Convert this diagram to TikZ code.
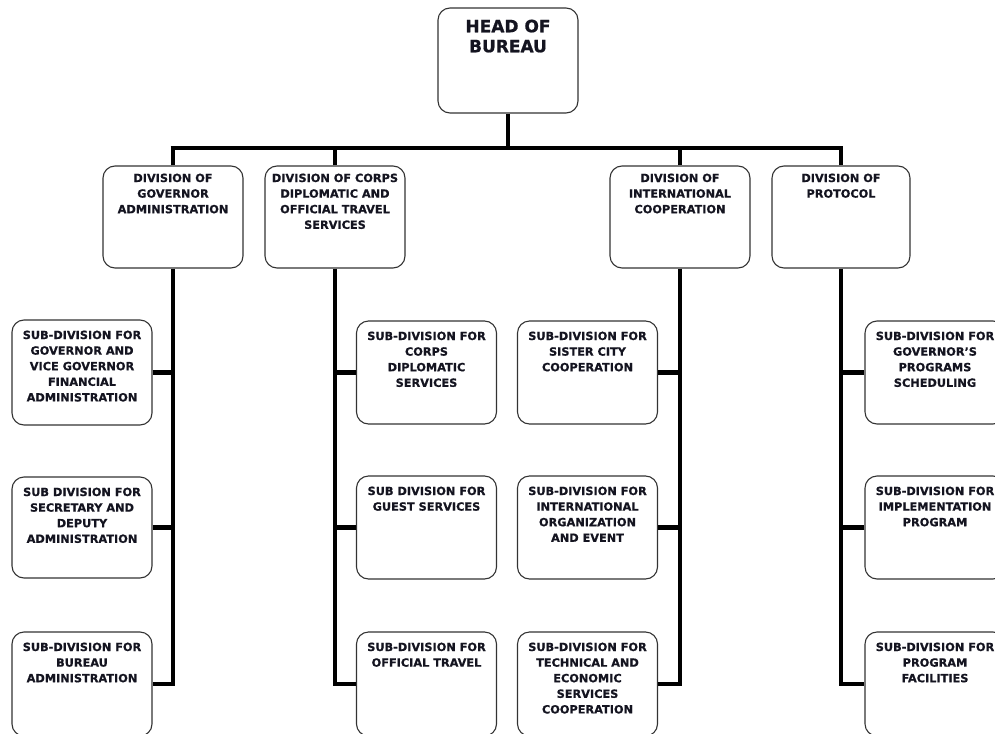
\documentclass[tikz,border=0pt]{standalone}
\usepackage{fontspec}
\setmainfont{DejaVu Sans}[BoldFeatures={FakeBold=0.7}]
\definecolor{boxline}{HTML}{333333}
\definecolor{txt}{HTML}{141420}
\begin{document}
\begin{tikzpicture}[x=1pt,y=-1pt,
  box/.style={draw=boxline, line width=1.1pt, rounded corners=12pt, minimum width=140pt, minimum height=103pt, inner sep=0pt},
  lbl/.style={anchor=north, align=center, inner sep=0pt, text=txt, font=\fontsize{11.3}{15.6}\selectfont\bfseries},
  headlbl/.style={anchor=north, align=center, inner sep=0pt, text=txt, font=\fontsize{17}{20}\selectfont\bfseries},
  conn/.style={line width=4.8pt, draw=black, line join=miter}]
\useasboundingbox (0,0) rectangle (995,733);
\clip (0,0) rectangle (995,733);
\fill[white] (0,0) rectangle (995,733);

% head
\node[box, minimum height=105pt] (h) at (508,60.5) {};
\node[headlbl] (ht) at ([yshift=-12pt]h.north) {HEAD OF\\BUREAU};

% divisions
\node[box, minimum height=102pt] (d1) at (173,217) {};
\node[box, minimum height=102pt] (d2) at (335,217) {};
\node[box, minimum height=102pt] (d3) at (680,217) {};
\node[box, minimum height=102pt, minimum width=138pt] (d4) at (841,217) {};
\node[lbl] (d1t) at ([yshift=-8pt]d1.north) {DIVISION OF\\GOVERNOR\\ADMINISTRATION};
\node[lbl] (d2t) at ([yshift=-8pt]d2.north) {DIVISION OF CORPS\\DIPLOMATIC AND\\OFFICIAL TRAVEL\\SERVICES};
\node[lbl] (d3t) at ([yshift=-8pt]d3.north) {DIVISION OF\\INTERNATIONAL\\COOPERATION};
\node[lbl] (d4t) at ([yshift=-8pt]d4.north) {DIVISION OF\\PROTOCOL};

% sub-divisions column 1
\node[box, minimum height=105pt] (s11) at (82,372.5) {};
\node[box, minimum height=101pt] (s12) at (82,527.5) {};
\node[box, minimum height=104pt] (s13) at (82,684) {};
% column 2
\node[box, minimum height=103pt] (s21) at (426.5,372.5) {};
\node[box, minimum height=103pt] (s22) at (426.5,527.5) {};
\node[box, minimum height=104pt] (s23) at (426.5,684) {};
% column 3
\node[box, minimum height=103pt] (s31) at (587.5,372.5) {};
\node[box, minimum height=103pt] (s32) at (587.5,527.5) {};
\node[box, minimum height=104pt] (s33) at (587.5,684) {};
% column 4
\node[box, minimum height=103pt] (s41) at (935,372.5) {};
\node[box, minimum height=103pt] (s42) at (935,527.5) {};
\node[box, minimum height=104pt] (s43) at (935,684) {};

\node[lbl] (s11t) at ([yshift=-11pt]s11.north) {SUB-DIVISION FOR\\GOVERNOR AND\\VICE GOVERNOR\\FINANCIAL\\ADMINISTRATION};
\node[lbl] (s12t) at ([yshift=-11pt]s12.north) {SUB DIVISION FOR\\SECRETARY AND\\DEPUTY\\ADMINISTRATION};
\node[lbl] (s13t) at ([yshift=-11pt]s13.north) {SUB-DIVISION FOR\\BUREAU\\ADMINISTRATION};
\node[lbl] (s21t) at ([yshift=-11pt]s21.north) {SUB-DIVISION FOR\\CORPS\\DIPLOMATIC\\SERVICES};
\node[lbl] (s22t) at ([yshift=-11pt]s22.north) {SUB DIVISION FOR\\GUEST SERVICES};
\node[lbl] (s23t) at ([yshift=-11pt]s23.north) {SUB-DIVISION FOR\\OFFICIAL TRAVEL};
\node[lbl] (s31t) at ([yshift=-11pt]s31.north) {SUB-DIVISION FOR\\SISTER CITY\\COOPERATION};
\node[lbl] (s32t) at ([yshift=-11pt]s32.north) {SUB-DIVISION FOR\\INTERNATIONAL\\ORGANIZATION\\AND EVENT};
\node[lbl] (s33t) at ([yshift=-11pt]s33.north) {SUB-DIVISION FOR\\TECHNICAL AND\\ECONOMIC\\SERVICES\\COOPERATION};
\node[lbl] (s41t) at ([yshift=-11pt]s41.north) {SUB-DIVISION FOR\\GOVERNOR'S\\PROGRAMS\\SCHEDULING};
\node[lbl] (s42t) at ([yshift=-11pt]s42.north) {SUB-DIVISION FOR\\IMPLEMENTATION\\PROGRAM};
\node[lbl] (s43t) at ([yshift=-11pt]s43.north) {SUB-DIVISION FOR\\PROGRAM\\FACILITIES};

% connectors
\coordinate (barL) at (173,148);
\coordinate (barR) at (841,148);
\draw[conn] ([xshift=-2.4pt]barL) -- ([xshift=2.4pt]barR);
\draw[conn] (h.south) -- (h.south |- barL);
\foreach \d in {d1,d2,d3,d4} {
  \draw[conn] (\d.north) -- (\d.north |- barL);
}
% column 1
\draw[conn] (d1.south) |- (s13.east);
\draw[conn] (s11.east) -- (s11.east -| d1.south);
\draw[conn] (s12.east) -- (s12.east -| d1.south);
% column 2
\draw[conn] (d2.south) |- (s23.west);
\draw[conn] (s21.west) -- (s21.west -| d2.south);
\draw[conn] (s22.west) -- (s22.west -| d2.south);
% column 3
\draw[conn] (d3.south) |- (s33.east);
\draw[conn] (s31.east) -- (s31.east -| d3.south);
\draw[conn] (s32.east) -- (s32.east -| d3.south);
% column 4
\draw[conn] (d4.south) |- (s43.west);
\draw[conn] (s41.west) -- (s41.west -| d4.south);
\draw[conn] (s42.west) -- (s42.west -| d4.south);
\end{tikzpicture}
\end{document}
